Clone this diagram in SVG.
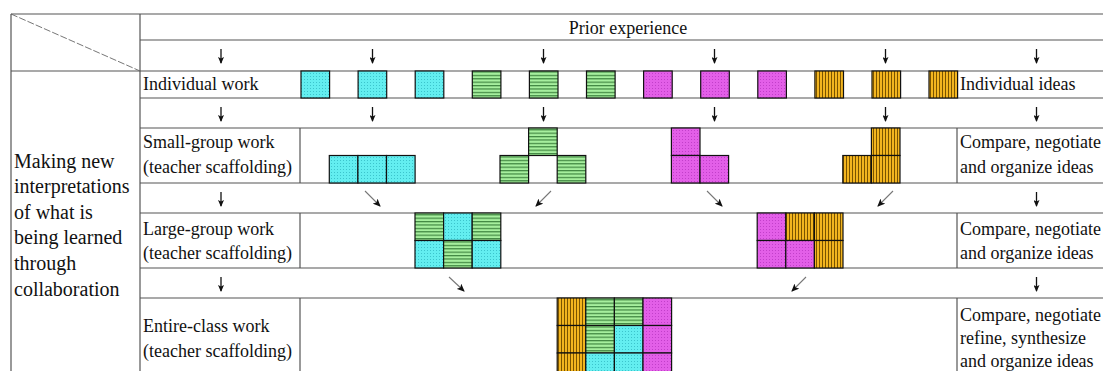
<svg xmlns="http://www.w3.org/2000/svg" width="1103" height="371" viewBox="0 0 1103 371">
  <style>
    .grid { stroke: #555; stroke-width: 1.2; fill: none; }
    .lbl { font-family: "Liberation Serif", "Times New Roman", serif; font-size: 18px; fill: #111; }
    .side { font-family: "Liberation Serif", "Times New Roman", serif; font-size: 20px; fill: #111; }
    .sq { stroke: #111; stroke-width: 1.2; }
    .cy { fill: url(#pCyan); }
    .gr { fill: url(#pGreen); }
    .mg { fill: url(#pMag); }
    .go { fill: url(#pGold); }
    .down { stroke: #111; stroke-width: 1.3; fill: none; marker-end: url(#headSmall); }
    .diag { stroke: #777; stroke-width: 1.1; fill: none; marker-end: url(#head); }
  </style>
  <defs>
    <pattern id="pCyan" width="3" height="3" patternUnits="userSpaceOnUse">
      <rect width="3" height="3" fill="#63EEF0"/>
      <rect x="1" y="1" width="1" height="1" fill="#3CC4CC"/>
    </pattern>
    <pattern id="pGreen" width="4" height="3.4" patternUnits="userSpaceOnUse">
      <rect width="4" height="3.4" fill="#A6EF9E"/>
      <rect width="4" height="1.2" fill="#3F8540"/>
    </pattern>
    <pattern id="pMag" width="3" height="3" patternUnits="userSpaceOnUse">
      <rect width="3" height="3" fill="#E35FE8"/>
      <rect x="1" y="1" width="1" height="1" fill="#C23FCA"/>
    </pattern>
    <pattern id="pGold" width="3" height="4" patternUnits="userSpaceOnUse">
      <rect width="3" height="4" fill="#F3B51F"/>
      <rect width="1" height="4" fill="#7A5400"/>
    </pattern>
    <marker id="head" viewBox="0 0 8 7" refX="7" refY="3.5" markerWidth="8" markerHeight="7" markerUnits="userSpaceOnUse" orient="auto">
      <path d="M0,0 L8,3.5 L0,7 L2,3.5 z" fill="#111"/>
    </marker>
    <marker id="headSmall" viewBox="0 0 7 6" refX="6" refY="3" markerWidth="7" markerHeight="6" markerUnits="userSpaceOnUse" orient="auto">
      <path d="M0,0 L7,3 L0,6 L1.5,3 z" fill="#111"/>
    </marker>
  </defs>

  <rect width="1103" height="371" fill="#ffffff"/>

  <!-- table rules -->
  <g id="table" class="grid">
    <line x1="11" y1="14" x2="1103" y2="14"/>
    <line x1="140" y1="40" x2="1103" y2="40"/>
    <line x1="11" y1="71" x2="1103" y2="71"/>
    <line x1="140" y1="98" x2="1103" y2="98"/>
    <line x1="140" y1="128" x2="1103" y2="128"/>
    <line x1="140" y1="183" x2="1103" y2="183"/>
    <line x1="140" y1="213" x2="1103" y2="213"/>
    <line x1="140" y1="268" x2="1103" y2="268"/>
    <line x1="140" y1="298" x2="1103" y2="298"/>
    <line x1="11" y1="14" x2="11" y2="371"/>
    <line x1="140" y1="14" x2="140" y2="371"/>
    <line x1="300" y1="128" x2="300" y2="183"/>
    <line x1="300" y1="213" x2="300" y2="268"/>
    <line x1="300" y1="298" x2="300" y2="371"/>
    <line x1="957" y1="128" x2="957" y2="183"/>
    <line x1="957" y1="213" x2="957" y2="268"/>
    <line x1="957" y1="298" x2="957" y2="371"/>
    <line x1="11" y1="14" x2="140" y2="71" stroke="#666" stroke-width="0.9" stroke-dasharray="7 2"/>
  </g>

  <!-- header -->
  <g id="header">
    <text class="lbl" x="628" y="34" text-anchor="middle" font-size="19">Prior experience</text>
  </g>

  <!-- side caption -->
  <g id="caption">
    <text class="side" x="14" y="168">Making new</text>
    <text class="side" x="14" y="193">interpretations</text>
    <text class="side" x="14" y="219">of what is</text>
    <text class="side" x="14" y="244">being learned</text>
    <text class="side" x="14" y="270">through</text>
    <text class="side" x="14" y="296">collaboration</text>
  </g>

  <!-- individual work row -->
  <g id="individual">
    <text class="lbl" x="143" y="90">Individual work</text>
    <rect class="sq cy" x="301" y="71" width="28.6" height="27"/>
    <rect class="sq cy" x="358.1" y="71" width="28.6" height="27"/>
    <rect class="sq cy" x="415.2" y="71" width="28.6" height="27"/>
    <rect class="sq gr" x="472.3" y="71" width="28.6" height="27"/>
    <rect class="sq gr" x="529.4" y="71" width="28.6" height="27"/>
    <rect class="sq gr" x="586.5" y="71" width="28.6" height="27"/>
    <rect class="sq mg" x="643.6" y="71" width="28.6" height="27"/>
    <rect class="sq mg" x="700.7" y="71" width="28.6" height="27"/>
    <rect class="sq mg" x="757.8" y="71" width="28.6" height="27"/>
    <rect class="sq go" x="814.9" y="71" width="28.6" height="27"/>
    <rect class="sq go" x="872" y="71" width="28.6" height="27"/>
    <rect class="sq go" x="929" y="71" width="28.6" height="27"/>
    <text class="lbl" x="960" y="90">Individual ideas</text>
  </g>

  <!-- small-group work row -->
  <g id="small-group">
    <text class="lbl" x="143" y="148">Small-group work</text>
    <text class="lbl" x="143" y="173">(teacher scaffolding)</text>
    <rect class="sq cy" x="329.3" y="155.5" width="28.6" height="27.5"/>
    <rect class="sq cy" x="357.9" y="155.5" width="28.6" height="27.5"/>
    <rect class="sq cy" x="386.5" y="155.5" width="28.6" height="27.5"/>
    <rect class="sq gr" x="500" y="155.5" width="28.6" height="27.5"/>
    <rect class="sq gr" x="528.6" y="128" width="28.6" height="27.5"/>
    <rect class="sq gr" x="557.2" y="155.5" width="28.6" height="27.5"/>
    <rect class="sq mg" x="671.4" y="128" width="28.6" height="27.5"/>
    <rect class="sq mg" x="671.4" y="155.5" width="28.6" height="27.5"/>
    <rect class="sq mg" x="700" y="155.5" width="28.6" height="27.5"/>
    <rect class="sq go" x="842.8" y="155.5" width="28.6" height="27.5"/>
    <rect class="sq go" x="871.4" y="128" width="28.6" height="27.5"/>
    <rect class="sq go" x="871.4" y="155.5" width="28.6" height="27.5"/>
    <text class="lbl" x="960" y="148">Compare, negotiate</text>
    <text class="lbl" x="960" y="173">and organize ideas</text>
  </g>

  <!-- large-group work row -->
  <g id="large-group">
    <text class="lbl" x="143" y="235">Large-group work</text>
    <text class="lbl" x="143" y="259">(teacher scaffolding)</text>
    <rect class="sq gr" x="415" y="213" width="28.6" height="27.5"/>
    <rect class="sq cy" x="443.6" y="213" width="28.6" height="27.5"/>
    <rect class="sq gr" x="472.2" y="213" width="28.6" height="27.5"/>
    <rect class="sq cy" x="415" y="240.5" width="28.6" height="27.5"/>
    <rect class="sq gr" x="443.6" y="240.5" width="28.6" height="27.5"/>
    <rect class="sq cy" x="472.2" y="240.5" width="28.6" height="27.5"/>
    <rect class="sq mg" x="757.2" y="213" width="28.6" height="27.5"/>
    <rect class="sq go" x="785.8" y="213" width="28.6" height="27.5"/>
    <rect class="sq go" x="814.4" y="213" width="28.6" height="27.5"/>
    <rect class="sq mg" x="757.2" y="240.5" width="28.6" height="27.5"/>
    <rect class="sq mg" x="785.8" y="240.5" width="28.6" height="27.5"/>
    <rect class="sq go" x="814.4" y="240.5" width="28.6" height="27.5"/>
    <text class="lbl" x="960" y="235">Compare, negotiate</text>
    <text class="lbl" x="960" y="259">and organize ideas</text>
  </g>

  <!-- entire-class work row -->
  <g id="entire-class">
    <text class="lbl" x="143" y="332">Entire-class work</text>
    <text class="lbl" x="143" y="357">(teacher scaffolding)</text>
    <rect class="sq go" x="557.2" y="298" width="28.6" height="27.5"/>
    <rect class="sq gr" x="585.8" y="298" width="28.6" height="27.5"/>
    <rect class="sq gr" x="614.4" y="298" width="28.6" height="27.5"/>
    <rect class="sq mg" x="643" y="298" width="28.6" height="27.5"/>
    <rect class="sq go" x="557.2" y="325.5" width="28.6" height="27.5"/>
    <rect class="sq gr" x="585.8" y="325.5" width="28.6" height="27.5"/>
    <rect class="sq cy" x="614.4" y="325.5" width="28.6" height="27.5"/>
    <rect class="sq mg" x="643" y="325.5" width="28.6" height="27.5"/>
    <rect class="sq go" x="557.2" y="353" width="28.6" height="27.5"/>
    <rect class="sq cy" x="585.8" y="353" width="28.6" height="27.5"/>
    <rect class="sq cy" x="614.4" y="353" width="28.6" height="27.5"/>
    <rect class="sq mg" x="643" y="353" width="28.6" height="27.5"/>
    <text class="lbl" x="960" y="321">Compare, negotiate</text>
    <text class="lbl" x="960" y="344">refine, synthesize</text>
    <text class="lbl" x="960" y="367">and organize ideas</text>
  </g>

  <!-- flow arrows -->
  <g id="connectors">
    <line class="down" x1="221" y1="49" x2="221" y2="63"/>
    <line class="down" x1="372.5" y1="49" x2="372.5" y2="63"/>
    <line class="down" x1="543.5" y1="49" x2="543.5" y2="63"/>
    <line class="down" x1="714.5" y1="49" x2="714.5" y2="63"/>
    <line class="down" x1="885.5" y1="49" x2="885.5" y2="63"/>
    <line class="down" x1="1036.5" y1="49" x2="1036.5" y2="63"/>

    <line class="down" x1="221" y1="107" x2="221" y2="121"/>
    <line class="down" x1="372.5" y1="107" x2="372.5" y2="121"/>
    <line class="down" x1="543.5" y1="107" x2="543.5" y2="121"/>
    <line class="down" x1="714.5" y1="107" x2="714.5" y2="121"/>
    <line class="down" x1="885.5" y1="107" x2="885.5" y2="121"/>
    <line class="down" x1="1036.5" y1="107" x2="1036.5" y2="121"/>

    <line class="down" x1="221" y1="192" x2="221" y2="206"/>
    <line class="diag" x1="365" y1="191" x2="380" y2="206"/>
    <line class="diag" x1="551" y1="191" x2="536" y2="206"/>
    <line class="diag" x1="707" y1="191" x2="722" y2="206"/>
    <line class="diag" x1="893" y1="191" x2="878" y2="206"/>
    <line class="down" x1="1036.5" y1="192" x2="1036.5" y2="206"/>

    <line class="down" x1="221" y1="277" x2="221" y2="291"/>
    <line class="diag" x1="449" y1="277" x2="464" y2="291"/>
    <line class="diag" x1="806" y1="277" x2="792" y2="291"/>
    <line class="down" x1="1036.5" y1="277" x2="1036.5" y2="291"/>
  </g>
</svg>
